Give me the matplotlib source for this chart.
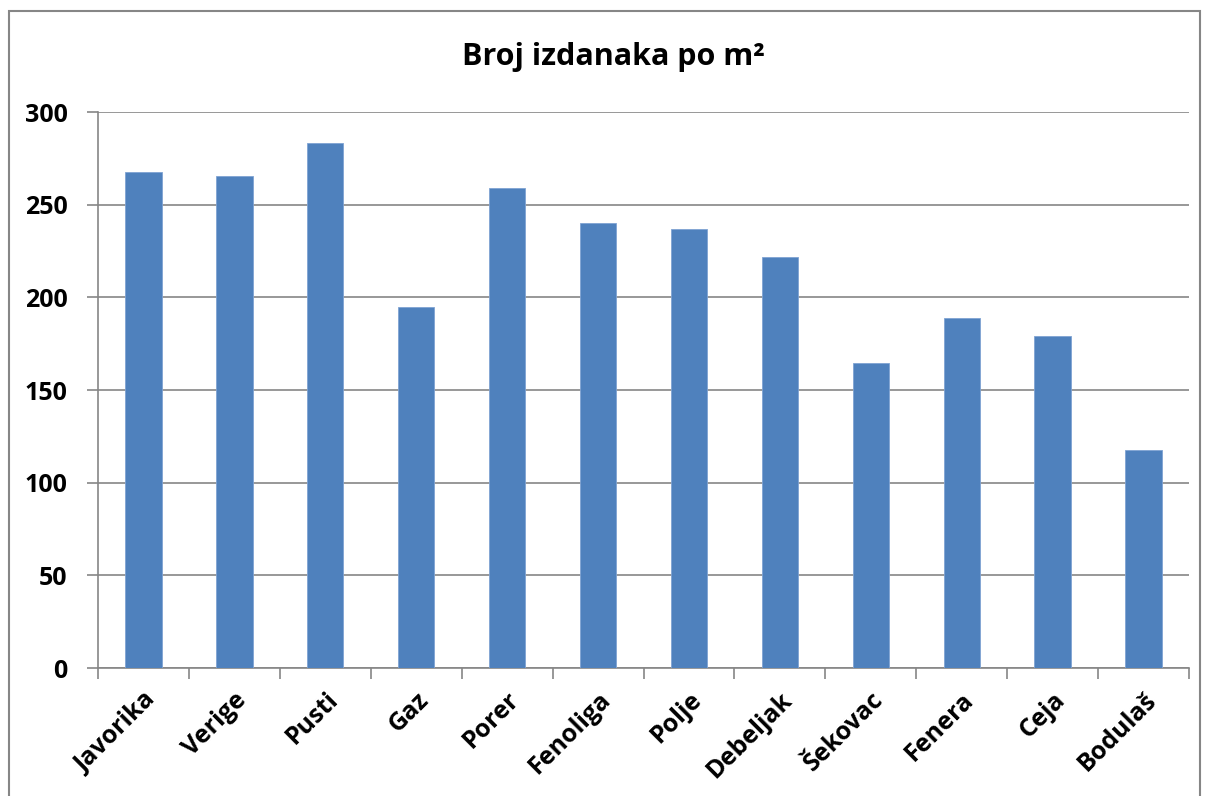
import matplotlib
matplotlib.use("Agg")
import matplotlib.pyplot as plt
from matplotlib.patches import Rectangle

categories = ["Javorika", "Verige", "Pusti", "Gaz", "Porer", "Fenoliga",
              "Polje", "Debeljak", "Šekovac", "Fenera", "Ceja", "Bodulaš"]
values = [267.6, 265.5, 283.3, 194.8, 259.0, 240.1,
          236.9, 221.8, 164.6, 188.9, 179.2, 117.6]
yticks = [0, 50, 100, 150, 200, 250, 300]
title = "Broj izdanaka po m²"

plt.rcParams["font.family"] = ["Open Sans", "DejaVu Sans"]

W, H = 1207, 796
fig = plt.figure(figsize=(W / 100, H / 100), dpi=100)
ax = fig.add_axes([98 / W, 1 - 668 / H, (1189 - 98) / W, (668 - 112) / H])

grid_col = "#868686"
x = list(range(len(categories)))
ax.bar(x, values, width=0.4, color="#4F81BD", edgecolor="#7FA3D3", linewidth=0.6, zorder=3)

ax.set_xlim(-0.5, len(categories) - 0.5)
ax.set_ylim(0, 300)
ax.set_yticks(yticks)
ax.set_yticklabels([str(t) for t in yticks], fontsize=18, fontweight="bold")
ax.yaxis.grid(True, color=grid_col, linewidth=1.2, zorder=0)

# category labels centred on bars, tick marks between categories
ax.set_xticks(x)
ax.set_xticklabels(categories, rotation=45, ha="right", rotation_mode="anchor",
                   fontsize=18, fontweight="bold")
ax.tick_params(axis="x", length=0, pad=14)
ax.set_xticks([i - 0.5 for i in range(len(categories) + 1)], minor=True)
ax.tick_params(axis="x", which="minor", length=8, width=1.2, color=grid_col)
ax.tick_params(axis="y", length=8, width=1.2, color=grid_col, pad=14)

for s in ["top", "right"]:
    ax.spines[s].set_visible(False)
for s in ["left", "bottom"]:
    ax.spines[s].set_color(grid_col)
    ax.spines[s].set_linewidth(1.2)

fig.text((460 + 767) / 2 / W, 1 - 57 / H, title, ha="center", va="center",
         fontsize=22, fontweight="bold")

# chart area border
fig.patches.append(Rectangle((9 / W, -0.1), (1200 - 9) / W, 1.1 - 11 / H,
                             transform=fig.transFigure, fill=False,
                             edgecolor=grid_col, linewidth=1.5))

fig.savefig("out.png", dpi=100)
